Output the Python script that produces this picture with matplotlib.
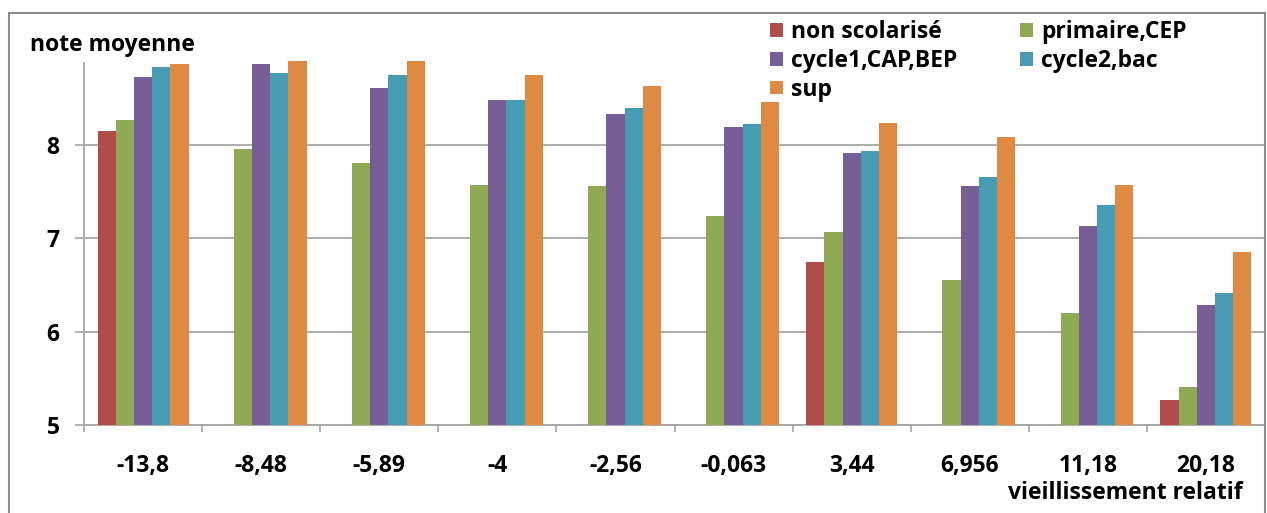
import numpy as np
import matplotlib
matplotlib.use('agg')
import matplotlib.pyplot as plt
from matplotlib.patches import Rectangle

categories = ['-13,8', '-8,48', '-5,89', '-4', '-2,56', '-0,063', '3,44', '6,956', '11,18', '20,18']
series = ['non scolarisé', 'primaire,CEP', 'cycle1,CAP,BEP', 'cycle2,bac', 'sup']
nan = np.nan
non_scol = [8.15, nan, nan, nan, nan, nan, 6.74, nan, nan, 5.27]
primaire = [8.26, 7.95, 7.80, 7.57, 7.56, 7.24, 7.06, 6.55, 6.20, 5.41]
cycle1 = [8.72, 8.86, 8.60, 8.48, 8.33, 8.19, 7.91, 7.56, 7.13, 6.28]
cycle2 = [8.83, 8.76, 8.74, 8.48, 8.39, 8.22, 7.93, 7.65, 7.35, 6.41]
sup = [8.86, 8.89, 8.89, 8.74, 8.63, 8.45, 8.23, 8.08, 7.57, 6.85]
values = [non_scol, primaire, cycle1, cycle2, sup]
colors = ['#B04C4A', '#8FAA54', '#785E96', '#479CB4', '#DE8A43']

plt.rcParams['font.family'] = ['Open Sans', 'DejaVu Sans']
fs = 16.5
fw = 'bold'

fig = plt.figure(figsize=(12.67, 5.13), dpi=100)
W, H = 1267, 513
ax = fig.add_axes([84 / W, 1 - 425 / H, (1265 - 84) / W, (425 - 60.4) / H])

x = np.arange(len(categories))
w = 0.154
handles = []
for i, (name, vals) in enumerate(zip(series, values)):
    b = ax.bar(x + (i - 2) * w, vals, width=w, bottom=0, color=colors[i], label=name,
               edgecolor='none', zorder=3)
    handles.append(b)

ax.set_ylim(5, 8.9)
ax.set_xlim(-0.5, len(categories) - 0.5)
ax.set_yticks([5, 6, 7, 8])
ax.yaxis.grid(True, color='#A6A6A6', linewidth=1.3, zorder=0)
ax.set_xticks(x)
ax.set_xticklabels(categories, fontsize=fs, fontweight=fw)
ax.set_xticks(np.arange(-0.5, len(categories)), minor=True)
ax.tick_params(axis='x', which='major', length=0, pad=21)
ax.tick_params(axis='x', which='minor', length=5, width=1.2, color='#A6A6A6')
ax.tick_params(axis='y', length=6.5, width=1.2, color='#A6A6A6', pad=11, labelsize=fs)
for lab in ax.get_yticklabels():
    lab.set_fontweight(fw)
for s in ['top', 'right']:
    ax.spines[s].set_visible(False)
for s in ['left', 'bottom']:
    ax.spines[s].set_color('#A6A6A6')
    ax.spines[s].set_linewidth(1.3)
ax.spines['left'].set_bounds(5, 8.87)

fig.text(30 / W, 1 - 45 / H, 'note moyenne', fontsize=fs, fontweight=fw, va='center', ha='left')
fig.text(1243 / W, 1 - 493 / H, 'vieillissement relatif', fontsize=fs, fontweight=fw, va='center', ha='right')

order = [0, 2, 4, 1, 3]
fig.legend([handles[k] for k in order], [series[k] for k in order],
           loc='upper left', bbox_to_anchor=(759 / W, 1 - 9 / H), ncol=2, frameon=False,
           prop={'weight': fw, 'size': fs}, handlelength=0.55, handleheight=0.55,
           handletextpad=0.35, columnspacing=2.75, labelspacing=0.2, borderpad=0)

fig.patches.append(Rectangle((9 / W, -0.1), (1265 - 9) / W, 1.1 - 13 / H, transform=fig.transFigure,
                             fill=False, edgecolor='#8C8C8C', linewidth=1.5, figure=fig))

fig.savefig('out.png', dpi=100)
